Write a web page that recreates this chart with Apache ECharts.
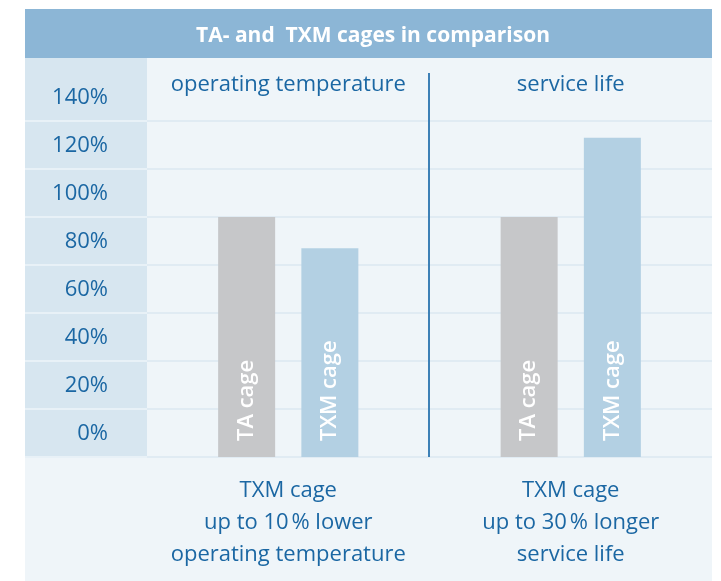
<!DOCTYPE html>
<html>
<head>
<meta charset="utf-8">
<title>TA- and TXM cages in comparison</title>
<script src="https://cdn.jsdelivr.net/npm/echarts@6/dist/echarts.min.js"></script>
<style>
    html, body { margin: 0; padding: 0; background: #ffffff; }
    #main { width: 721px; height: 581px; }
</style>
</head>
<body>
<div id="main"></div>
<script>
var categories = ["operating temperature", "service life"];
var taValues = [100, 100];
var txmValues = [87, 133];
var seriesNames = ["TA cage", "TXM cage"];
var notes = [
    "TXM cage\nup to 10\u202f% lower\noperating temperature",
    "TXM cage\nup to 30\u202f% longer\nservice life"
];

var FONT = "Open Sans";
var BLUE = "#1b67a3";

chart1();

function chart1() {
    var myChart = echarts.init(document.getElementById("main"));

    var barLabel = {
        show: true,
        position: "insideBottom",
        rotate: 90,
        align: "left",
        verticalAlign: "middle",
        distance: 16,
        formatter: "{a}",
        color: "#ffffff",
        fontSize: 22,
        fontWeight: 600,
        fontFamily: FONT,
    };

    var option = {
        animation: false,
        textStyle: { fontFamily: FONT },
        title: {
            text: "TA- and  TXM cages in comparison",
            left: 368,
            top: 21,
            textAlign: "center",
            textStyle: {
                color: "#ffffff",
                fontSize: 21,
                fontWeight: "bold",
                fontFamily: FONT,
            },
        },
        graphic: {
            elements: [
                { type: "rect", z: -10, shape: { x: 25, y: 9, width: 687, height: 49 }, style: { fill: "#8cb6d6" } },
                { type: "rect", z: -10, shape: { x: 25, y: 58, width: 687, height: 523 }, style: { fill: "#eff5f9" } },
                { type: "rect", z: -9, shape: { x: 25, y: 58, width: 122, height: 399 }, style: { fill: "#d7e6f0" } },
            ],
        },
        grid: [
            { left: 147, right: 9, top: 121, bottom: 124 },
            { left: 25, width: 122, top: 121, bottom: 124 },
        ],
        xAxis: [
            {
                type: "category",
                gridIndex: 0,
                position: "bottom",
                data: categories,
                axisLine: { show: false },
                axisTick: { show: false },
                axisLabel: {
                    interval: 0,
                    margin: 18,
                    color: BLUE,
                    fontSize: 22,
                    lineHeight: 32,
                    fontFamily: FONT,
                    formatter: function (v, i) { return notes[i]; },
                },
            },
            {
                type: "category",
                gridIndex: 0,
                position: "top",
                data: categories,
                axisLine: { show: false },
                axisTick: { show: false },
                axisLabel: {
                    interval: 0,
                    margin: 25,
                    color: BLUE,
                    fontSize: 22,
                    fontFamily: FONT,
                },
            },
            {
                type: "category",
                gridIndex: 1,
                data: [""],
                show: false,
            },
        ],
        yAxis: [
            {
                type: "value",
                gridIndex: 0,
                min: 0,
                max: 140,
                interval: 20,
                axisLine: { show: false },
                axisTick: { show: false },
                axisLabel: {
                    margin: 39,
                    color: BLUE,
                    fontSize: 22,
                    lineHeight: 46,
                    verticalAlign: "bottom",
                    fontFamily: FONT,
                    showMinLabel: true,
                    showMaxLabel: true,
                    hideOverlap: false,
                    formatter: "{value}%",
                },
                splitLine: { lineStyle: { color: "#e0ebf3", width: 2 } },
            },
            {
                type: "value",
                gridIndex: 1,
                min: 0,
                max: 140,
                interval: 20,
                axisLine: { show: false },
                axisTick: { show: false },
                axisLabel: { show: false },
                splitLine: { lineStyle: { color: "#e8f1f7", width: 2 } },
            },
        ],
        series: [
            {
                name: seriesNames[0],
                type: "bar",
                xAxisIndex: 0,
                yAxisIndex: 0,
                data: taValues,
                barWidth: 57,
                barGap: "46%",
                itemStyle: { color: "#c6c7c9" },
                label: barLabel,
            },
            {
                name: seriesNames[1],
                type: "bar",
                xAxisIndex: 0,
                yAxisIndex: 0,
                data: txmValues,
                barWidth: 57,
                barGap: "46%",
                itemStyle: { color: "#b3d0e3" },
                label: barLabel,
            },
        ],
    };

    myChart.setOption(option);

    // divider between the two groups, halfway between category centres
    var x0 = myChart.convertToPixel({ xAxisIndex: 0 }, categories[0]);
    var x1 = myChart.convertToPixel({ xAxisIndex: 0 }, categories[1]);
    var yBase = myChart.convertToPixel({ yAxisIndex: 0 }, 0);
    var xMid = Math.round((x0 + x1) / 2) - 1;
    option.graphic.elements.push({
        type: "line",
        z: 5,
        shape: { x1: xMid, y1: 73, x2: xMid, y2: yBase },
        style: { stroke: "#3d80b6", lineWidth: 2 },
    });
    myChart.setOption({ graphic: option.graphic });

    window.addEventListener("resize", function () {
        myChart.resize();
    });
}
</script>
</body>
</html>
